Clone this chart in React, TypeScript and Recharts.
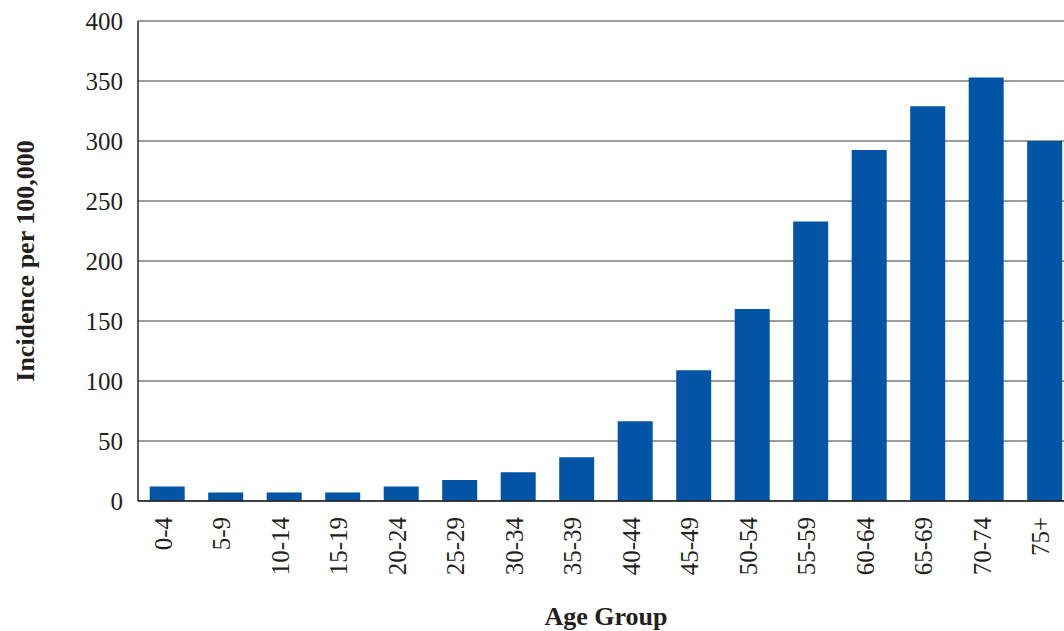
import React from 'react';
import { BarChart, Bar, XAxis, YAxis, CartesianGrid, Label } from 'recharts';

const categories = ['0-4', '5-9', '10-14', '15-19', '20-24', '25-29', '30-34', '35-39', '40-44', '45-49', '50-54', '55-59', '60-64', '65-69', '70-74', '75+'];
const incidence = [12, 7, 7, 7, 12, 17.5, 24, 36.5, 66.5, 109, 160, 233, 292.5, 329, 353, 300];
const yTicks = [0, 50, 100, 150, 200, 250, 300, 350, 400];

const data = categories.map((c, i) => ({ group: c, value: incidence[i] }));

const FONT = '"Liberation Serif", "Times New Roman", serif';
const TEXT = '#231f20';

const XTick = (props: any) => {
  const { x, y, payload } = props;
  return (
    <g transform={`translate(${x},${y + 16})`}>
      <text transform="rotate(-90)" textAnchor="end" x={0} y={0} dy={4.5} fontFamily={FONT} fontSize={25} fill={TEXT}>
        {payload.value}
      </text>
    </g>
  );
};

const YTitle = (props: any) => {
  const vb = props.viewBox;
  const cx = 25;
  const cy = vb.y + vb.height / 2;
  return (
    <text transform={`translate(${cx},${cy}) rotate(-90)`} textAnchor="middle" dy={9} fontFamily={FONT} fontWeight="bold" fontSize={26} fill={TEXT}>
      Incidence per 100,000
    </text>
  );
};

const XTitle = (props: any) => {
  const vb = props.viewBox;
  return (
    <text x={vb.x + vb.width / 2} y={vb.y + 124} textAnchor="middle" fontFamily={FONT} fontWeight="bold" fontSize={26} fill={TEXT}>
      Age Group
    </text>
  );
};

export default function App() {
  return (
    <div style={{ position: 'fixed', left: 0, top: 0, width: 1064, height: 631, overflow: 'hidden', background: '#fff' }}>
      <BarChart width={1080} height={631} data={data} margin={{ top: 21, right: 6, bottom: 0, left: 0 }} barCategoryGap="20%">
        <CartesianGrid vertical={false} stroke="#3a3a3a" strokeWidth={1.2} />
        <XAxis dataKey="group" height={130} tickLine={false} axisLine={{ stroke: '#222', strokeWidth: 1.5 }} tickSize={0} tickMargin={0} tick={<XTick />} interval={0}>
          <Label content={<XTitle />} />
        </XAxis>
        <YAxis
          width={138}
          domain={[0, 400]}
          ticks={yTicks}
          tickLine={false}
          tickSize={0}
          tickMargin={15}
          axisLine={{ stroke: '#222', strokeWidth: 1.5 }}
          tick={{ fontFamily: FONT, fontSize: 25, fill: TEXT }}
        >
          <Label content={<YTitle />} />
        </YAxis>
        <Bar dataKey="value" fill="#0255a5" isAnimationActive={false} />
      </BarChart>
    </div>
  );
}
